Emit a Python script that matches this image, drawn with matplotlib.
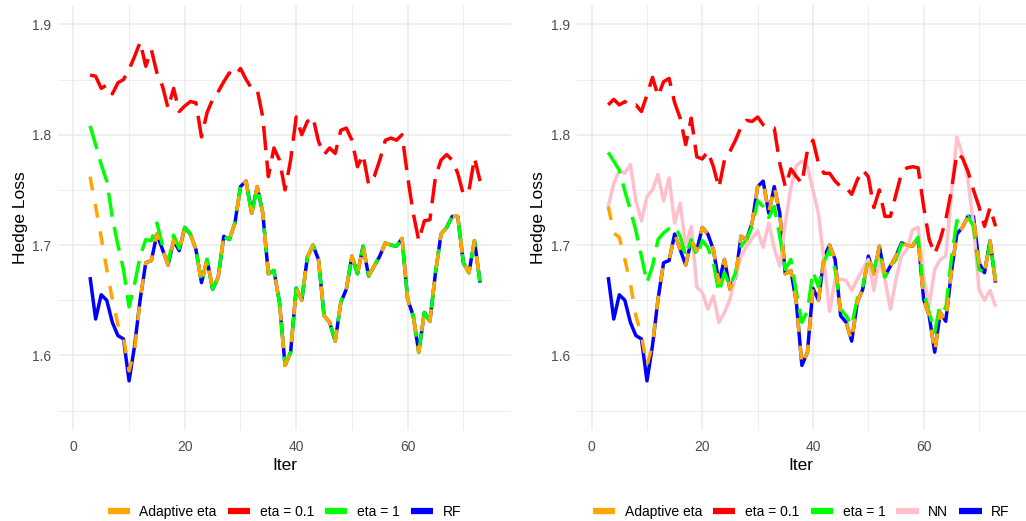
import matplotlib
matplotlib.use("Agg")
import matplotlib.pyplot as plt
import numpy as np
from matplotlib.lines import Line2D

plt.rcParams["font.family"] = ["Liberation Sans", "DejaVu Sans"]

# ── Data ─────────────────────────────────────────────────────────────────────
ITER = np.arange(3, 74)

RF = [1.671, 1.633, 1.655, 1.650, 1.630, 1.618, 1.615, 1.577, 1.609, 1.651,
      1.684, 1.686, 1.710, 1.696, 1.682, 1.704, 1.695, 1.716, 1.710, 1.696,
      1.666, 1.687, 1.660, 1.671, 1.708, 1.705, 1.720, 1.753, 1.758, 1.729,
      1.753, 1.729, 1.674, 1.677, 1.648, 1.591, 1.603, 1.661, 1.650, 1.689,
      1.700, 1.687, 1.636, 1.630, 1.613, 1.648, 1.660, 1.690, 1.674, 1.699,
      1.672, 1.681, 1.690, 1.702, 1.700, 1.699, 1.706, 1.651, 1.636, 1.603,
      1.639, 1.631, 1.675, 1.710, 1.716, 1.726, 1.726, 1.684, 1.675, 1.704,
      1.666]

# left: RF only
ADAPTIVE_L = [1.762, 1.735, 1.707, 1.678, 1.651, 1.628, 1.616, 1.586, 1.605] + RF[9:]
ETA1_L = ([1.808, 1.791, 1.773, 1.758, 1.725, 1.700, 1.678, 1.644, 1.665, 1.690,
           1.705, 1.704, 1.720, 1.700, 1.683, 1.709, 1.697]
          + RF[17:29] + [1.727] + RF[30:])
ETA01_L = [1.854, 1.853, 1.842, 1.845, 1.837, 1.847, 1.850, 1.859, 1.871, 1.884,
           1.862, 1.877, 1.856, 1.844, 1.824, 1.842, 1.821, 1.826, 1.830, 1.829,
           1.798, 1.820, 1.832, 1.839, 1.848, 1.856, 1.853, 1.860, 1.850, 1.842,
           1.841, 1.816, 1.762, 1.788, 1.777, 1.750, 1.777, 1.816, 1.800, 1.812,
           1.816, 1.794, 1.782, 1.788, 1.783, 1.804, 1.806, 1.795, 1.771, 1.782,
           1.755, 1.762, 1.777, 1.795, 1.797, 1.795, 1.800, 1.762, 1.729, 1.704,
           1.722, 1.723, 1.762, 1.777, 1.782, 1.777, 1.765, 1.746, 1.749, 1.779,
           1.758]

# right: RF + NN
ADAPTIVE_R = [1.735, 1.711, 1.707, 1.687, 1.665, 1.636, 1.618, 1.591, 1.610] + RF[9:]
ETA1_R = [1.784, 1.776, 1.768, 1.749, 1.732, 1.713, 1.690, 1.666, 1.681, 1.705,
          1.711, 1.715, 1.717, 1.708, 1.690, 1.705, 1.690, 1.704, 1.698, 1.684,
          1.657, 1.675, 1.663, 1.675, 1.699, 1.705, 1.717, 1.740, 1.735, 1.725,
          1.735, 1.708, 1.678, 1.687, 1.657, 1.630, 1.640, 1.676, 1.662, 1.685,
          1.696, 1.678, 1.642, 1.636, 1.627, 1.651, 1.663, 1.687, 1.678, 1.696,
          1.671, 1.681, 1.687, 1.701, 1.699, 1.700, 1.707, 1.657, 1.639, 1.621,
          1.647, 1.642, 1.687, 1.722, 1.722, 1.726, 1.717, 1.678, 1.675, 1.702,
          1.668]
ETA01_R = [1.827, 1.832, 1.827, 1.830, 1.826, 1.827, 1.821, 1.836, 1.852, 1.835,
           1.848, 1.851, 1.829, 1.815, 1.791, 1.815, 1.780, 1.778, 1.785, 1.771,
           1.752, 1.777, 1.785, 1.795, 1.807, 1.813, 1.812, 1.816, 1.809, 1.806,
           1.806, 1.774, 1.753, 1.769, 1.762, 1.756, 1.786, 1.795, 1.774, 1.765,
           1.765, 1.758, 1.753, 1.752, 1.746, 1.759, 1.768, 1.762, 1.734, 1.750,
           1.726, 1.726, 1.746, 1.765, 1.770, 1.771, 1.770, 1.735, 1.705, 1.692,
           1.705, 1.723, 1.749, 1.783, 1.779, 1.767, 1.750, 1.735, 1.717, 1.734,
           1.717]
NN = [1.735, 1.756, 1.768, 1.765, 1.773, 1.740, 1.722, 1.744, 1.750, 1.764,
      1.740, 1.761, 1.720, 1.738, 1.699, 1.717, 1.662, 1.657, 1.642, 1.654,
      1.630, 1.639, 1.651, 1.672, 1.690, 1.699, 1.706, 1.713, 1.698, 1.720,
      1.697, 1.681, 1.720, 1.752, 1.772, 1.776, 1.771, 1.750, 1.728, 1.685,
      1.640, 1.669, 1.669, 1.668, 1.659, 1.669, 1.678, 1.687, 1.659, 1.687,
      1.669, 1.642, 1.669, 1.690, 1.696, 1.714, 1.716, 1.672, 1.645, 1.678,
      1.687, 1.690, 1.745, 1.798, 1.782, 1.760, 1.718, 1.660, 1.650, 1.659,
      1.644]

# ── Styles ───────────────────────────────────────────────────────────────────
LW = 2.5
STYLE = {
    "Adaptive eta": dict(color="#FFA500", ls=(0, (4, 4))),
    "eta = 0.1":    dict(color="#FF0000", ls=(0, (7, 3))),
    "eta = 1":      dict(color="#00FF00", ls=(0, (7, 3))),
    "NN":           dict(color="#FFC0CB", ls="-"),
    "RF":           dict(color="#0000FF", ls="-"),
}
GRID = "#EBEBEB"
TEXT = "#4D4D4D"
W, H = 1026, 521


def panel(fig, left_px, width_px, series, legend_order):
    ax = fig.add_axes([left_px / W, 91 / H, width_px / W, 425 / H])
    # bottom to top: RF under everything, adaptive last
    for name in ["RF", "NN", "eta = 1", "eta = 0.1", "Adaptive eta"]:
        if name not in series:
            continue
        st = STYLE[name]
        ax.plot(ITER, series[name], color=st["color"], linestyle=st["ls"],
                lw=LW, solid_capstyle="butt", dash_capstyle="butt",
                solid_joinstyle="round", dash_joinstyle="round")

    ax.set_xlim(-2.7, 78.5)
    ax.set_ylim(1.5325, 1.9175)
    ax.set_xticks([0, 20, 40, 60])
    ax.set_xticks([10, 30, 50, 70], minor=True)
    ax.set_yticks([1.6, 1.7, 1.8, 1.9])
    ax.set_yticks([1.55, 1.65, 1.75, 1.85], minor=True)
    ax.set_yticklabels(["1.6", "1.7", "1.8", "1.9"])
    ax.grid(which="major", color=GRID, lw=1.1)
    ax.grid(which="minor", color=GRID, lw=0.6)
    ax.set_axisbelow(True)
    for s in ax.spines.values():
        s.set_visible(False)
    ax.tick_params(which="both", length=0, labelsize=10, labelcolor=TEXT)
    ax.tick_params(axis="x", pad=7)
    ax.tick_params(axis="y", pad=5)
    ax.set_xlabel("Iter", fontsize=12.5, labelpad=3)
    ax.set_ylabel("Hedge Loss", fontsize=12.5, labelpad=3)

    handles = [Line2D([], [], color=STYLE[n]["color"], lw=4.5, solid_capstyle="butt")
               for n in legend_order]
    ax.legend(handles, legend_order, loc="center", bbox_to_anchor=(0.5, -0.193),
              ncol=len(legend_order), frameon=False, fontsize=10,
              handlelength=1.6, handletextpad=0.7, columnspacing=0.8)
    return ax


fig = plt.figure(figsize=(W / 100, H / 100), dpi=100)

panel(fig, 58.3, 452.4,
      {"Adaptive eta": ADAPTIVE_L, "eta = 0.1": ETA01_L, "eta = 1": ETA1_L, "RF": RF},
      ["Adaptive eta", "eta = 0.1", "eta = 1", "RF"])
panel(fig, 576.7, 449.3,
      {"Adaptive eta": ADAPTIVE_R, "eta = 0.1": ETA01_R, "eta = 1": ETA1_R,
       "NN": NN, "RF": RF},
      ["Adaptive eta", "eta = 0.1", "eta = 1", "NN", "RF"])

fig.savefig("out.png", dpi=100)
